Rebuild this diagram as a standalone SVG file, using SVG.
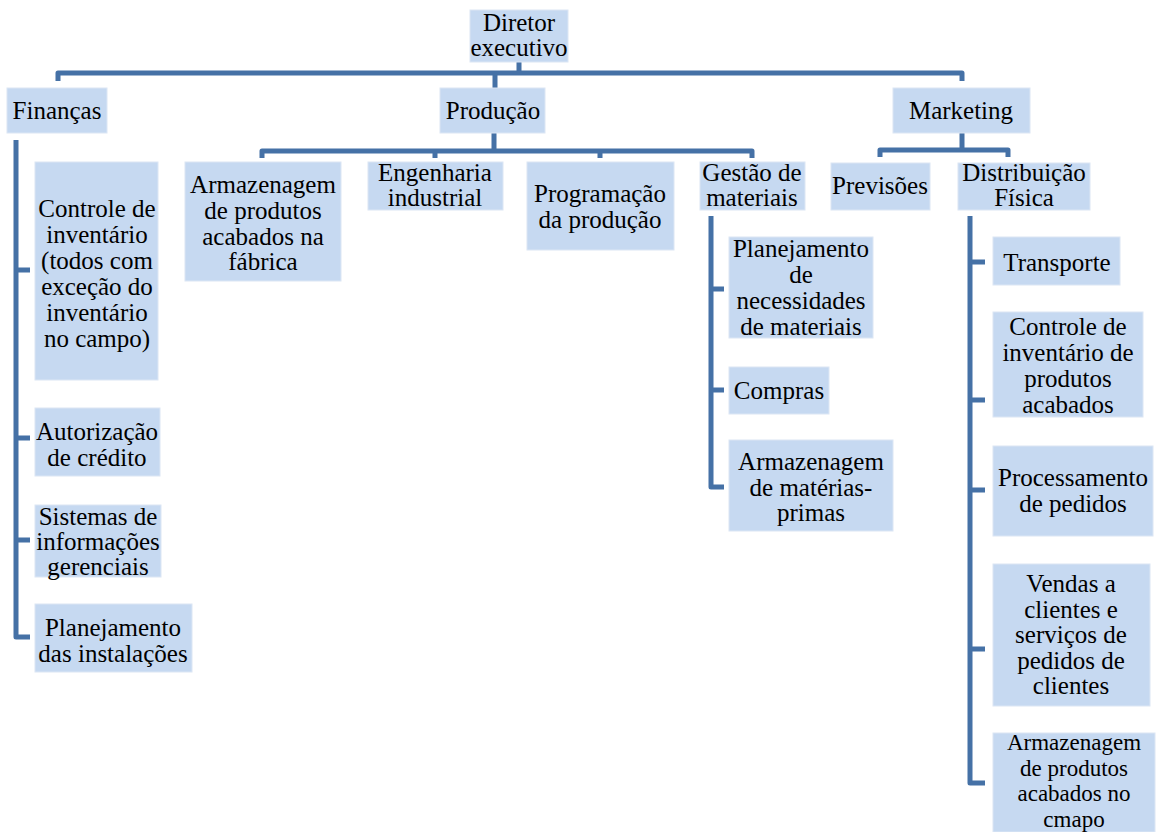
<svg xmlns="http://www.w3.org/2000/svg" width="1157" height="832" viewBox="0 0 1157 832">
<style>
.b{fill:#C6D9F1;stroke:#DCE6F4;stroke-width:1}
.t{font-family:"Liberation Serif","Times New Roman",serif;font-size:25px;fill:#000;text-anchor:middle}
.s{font-size:23px}
.c{fill:none;stroke:#4571A6;stroke-width:5;stroke-linejoin:round}
</style>
<rect width="1157" height="832" fill="#fff"/>
<g id="connectors">
<path class="c" d="M58,81 V73 H962 V81 M519,62 V73 M495,73 V88"/>
<path class="c" d="M494,133 V151 M262,158 V151 H752 V158 M435,151 V158 M600,151 V158"/>
<path class="c" d="M962,133 V150 M880,157 V150 H1008 V157"/>
<path class="c" d="M16,140 V637 H30 M16,270 H30 M16,438 H30 M16,540 H30"/>
<path class="c" d="M711,216 V487 H724 M711,289 H724 M711,390 H724"/>
<path class="c" d="M970,216 V783 H985 M970,262 H985 M970,400 H985 M970,490 H985 M970,649 H985"/>
</g>
<g id="n-diretor"><rect class="b" x="470" y="10" width="98" height="52"/><text class="t" x="519" y="31">Diretor</text><text class="t" x="519" y="56">executivo</text></g>
<g id="n-financas"><rect class="b" x="7" y="88" width="100" height="45"/><text class="t" x="57" y="119">Finanças</text></g>
<g id="n-producao"><rect class="b" x="440" y="88" width="105" height="45"/><text class="t" x="493" y="119">Produção</text></g>
<g id="n-marketing"><rect class="b" x="893" y="88" width="137" height="45"/><text class="t" x="961" y="119">Marketing</text></g>

<g id="n-controle"><rect class="b" x="35" y="162" width="123" height="218"/>
<text class="t" x="97" y="217">Controle de</text><text class="t" x="97" y="243">inventário</text><text class="t" x="97" y="269">(todos com</text><text class="t" x="97" y="295">exceção do</text><text class="t" x="97" y="321">inventário</text><text class="t" x="97" y="347">no campo)</text></g>
<g id="n-autorizacao"><rect class="b" x="35" y="408" width="125" height="68"/>
<text class="t" x="97" y="440">Autorização</text><text class="t" x="97" y="466">de crédito</text></g>
<g id="n-sistemas"><rect class="b" x="35" y="505" width="126" height="72"/>
<text class="t" x="98" y="525">Sistemas de</text><text class="t" x="98" y="550">informações</text><text class="t" x="98" y="575">gerenciais</text></g>
<g id="n-planinst"><rect class="b" x="35" y="604" width="157" height="68"/>
<text class="t" x="113" y="636">Planejamento</text><text class="t" x="113" y="662">das instalações</text></g>

<g id="n-armfab"><rect class="b" x="185" y="162" width="156" height="119"/>
<text class="t" x="263" y="193">Armazenagem</text><text class="t" x="263" y="219">de produtos</text><text class="t" x="263" y="245">acabados na</text><text class="t" x="263" y="270">fábrica</text></g>
<g id="n-engenharia"><rect class="b" x="368" y="162" width="135" height="48"/>
<text class="t" x="435" y="181">Engenharia</text><text class="t" x="435" y="206">industrial</text></g>
<g id="n-programacao"><rect class="b" x="527" y="162" width="147" height="88"/>
<text class="t" x="600" y="202">Programação</text><text class="t" x="600" y="228">da produção</text></g>
<g id="n-gestao"><rect class="b" x="700" y="162" width="105" height="48"/>
<text class="t" x="752" y="181">Gestão de</text><text class="t" x="752" y="206">materiais</text></g>

<g id="n-mrp"><rect class="b" x="729" y="237" width="144" height="101"/>
<text class="t" x="801" y="257">Planejamento</text><text class="t" x="801" y="283">de</text><text class="t" x="801" y="309">necessidades</text><text class="t" x="801" y="335">de materiais</text></g>
<g id="n-compras"><rect class="b" x="729" y="367" width="100" height="47"/>
<text class="t" x="779" y="399">Compras</text></g>
<g id="n-armmp"><rect class="b" x="729" y="440" width="164" height="91"/>
<text class="t" x="811" y="470">Armazenagem</text><text class="t" x="811" y="496">de matérias-</text><text class="t" x="811" y="521">primas</text></g>

<g id="n-previsoes"><rect class="b" x="831" y="163" width="99" height="47"/>
<text class="t" x="880" y="194">Previsões</text></g>
<g id="n-distribuicao"><rect class="b" x="958" y="163" width="132" height="47"/>
<text class="t" x="1024" y="181">Distribuição</text><text class="t" x="1024" y="206">Física</text></g>

<g id="n-transporte"><rect class="b" x="993" y="237" width="127" height="48"/>
<text class="t" x="1057" y="271">Transporte</text></g>
<g id="n-controlepa"><rect class="b" x="993" y="312" width="150" height="105"/>
<text class="t" x="1068" y="335">Controle de</text><text class="t" x="1068" y="361">inventário de</text><text class="t" x="1068" y="387">produtos</text><text class="t" x="1068" y="413">acabados</text></g>
<g id="n-processamento"><rect class="b" x="993" y="446" width="160" height="90"/>
<text class="t" x="1073" y="486">Processamento</text><text class="t" x="1073" y="512">de pedidos</text></g>
<g id="n-vendas"><rect class="b" x="993" y="564" width="157" height="142"/>
<text class="t" x="1071" y="592">Vendas a</text><text class="t" x="1071" y="618">clientes e</text><text class="t" x="1071" y="643">serviços de</text><text class="t" x="1071" y="669">pedidos de</text><text class="t" x="1071" y="694">clientes</text></g>
<g id="n-armcampo"><rect class="b" x="993" y="733" width="162" height="99"/>
<text class="t s" x="1074" y="750">Armazenagem</text><text class="t s" x="1074" y="775.5">de produtos</text><text class="t s" x="1074" y="801">acabados no</text><text class="t s" x="1074" y="826.5">cmapo</text></g>
</svg>
